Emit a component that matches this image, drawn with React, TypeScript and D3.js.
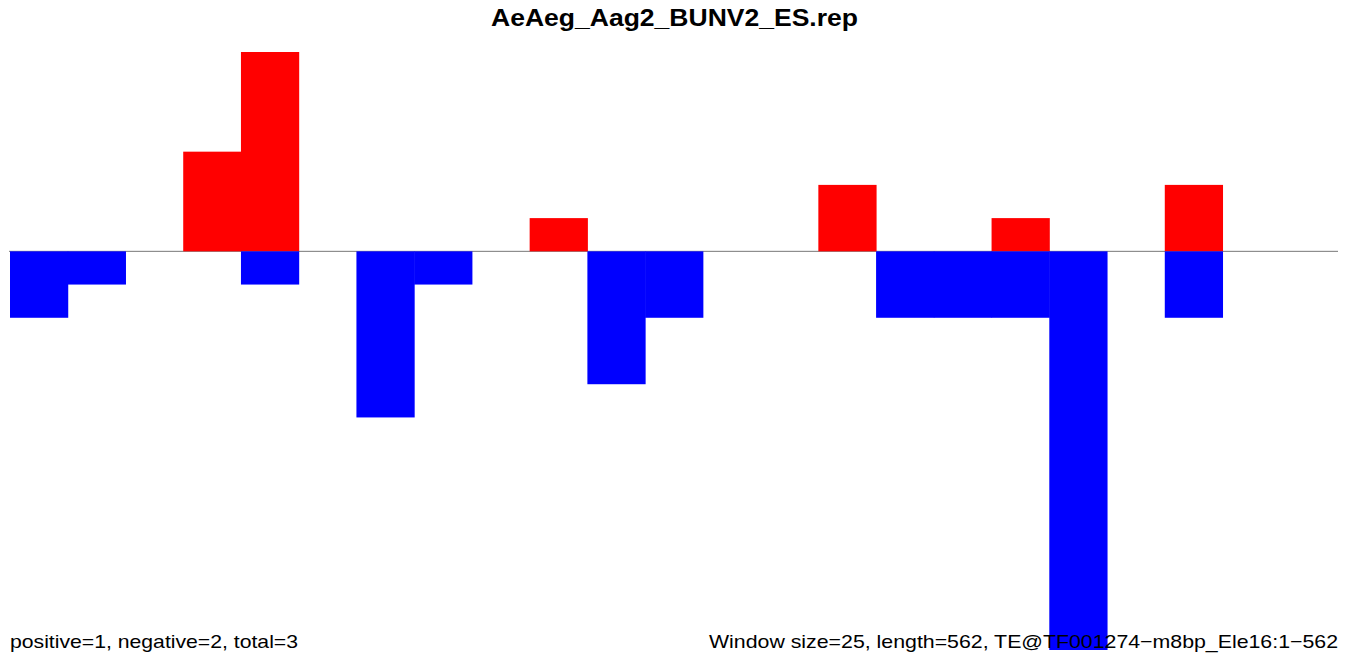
import { scaleLinear, scaleBand, range } from "d3"

const title = "AeAeg_Aag2_BUNV2_ES.rep"
const windowSize = 25
const seqLength = 562
const posIndex = [3, 4, 9, 14, 17, 20]
const posValues = [3, 6, 1, 2, 1, 2]
const negIndex = [0, 1, 4, 6, 7, 10, 11, 15, 16, 17, 18, 20]
const negValues = [2, 1, 1, 5, 1, 4, 2, 2, 2, 2, 12, 2]
const leftNote = "positive=1, negative=2, total=3"
const rightNote = "Window size=25, length=562, TE@TF001274\u2212m8bp_Ele16:1\u2212562"

const App = () => {
  const width = 1350
  const height = 667
  const nWin = Math.ceil(seqLength / windowSize)

  const xScale = scaleBand<number>().domain(range(nWin)).range([10, 1338]).padding(0)
  const yScale = scaleLinear().domain([-12, 6]).range([650, 52])
  const y0 = yScale(0)
  const font = "'Liberation Sans', Arial, Helvetica, sans-serif"

  const posBars = posIndex.map((i, k) => (
    <rect key={"p" + i} x={xScale(i)} width={xScale.bandwidth() + 0.5}
      y={yScale(posValues[k])} height={y0 - yScale(posValues[k])} fill="#ff0000" />
  ))
  const negBars = negIndex.map((i, k) => (
    <rect key={"n" + i} x={xScale(i)} width={xScale.bandwidth() + 0.5}
      y={y0} height={yScale(-negValues[k]) - y0} fill="#0000ff" />
  ))

  return (
    <svg width={width} height={height} style={{ position: "absolute", left: 0, top: 0 }}>
      <rect width={width} height={height} fill="#fff" />
      <line x1={9} x2={1338} y1={y0} y2={y0} stroke="#777" strokeWidth={1} />
      {posBars}
      {negBars}
      <text x={491} y={25.5} fontFamily={font} fontWeight="bold" fontSize={23.5}
        textLength={367} lengthAdjust="spacingAndGlyphs">{title}</text>
      <text x={10} y={648} fontFamily={font} fontSize={18.5}
        textLength={288} lengthAdjust="spacingAndGlyphs">{leftNote}</text>
      <text x={709} y={648} fontFamily={font} fontSize={18.5}
        textLength={629} lengthAdjust="spacingAndGlyphs">{rightNote}</text>
    </svg>
  )
}

export default App
